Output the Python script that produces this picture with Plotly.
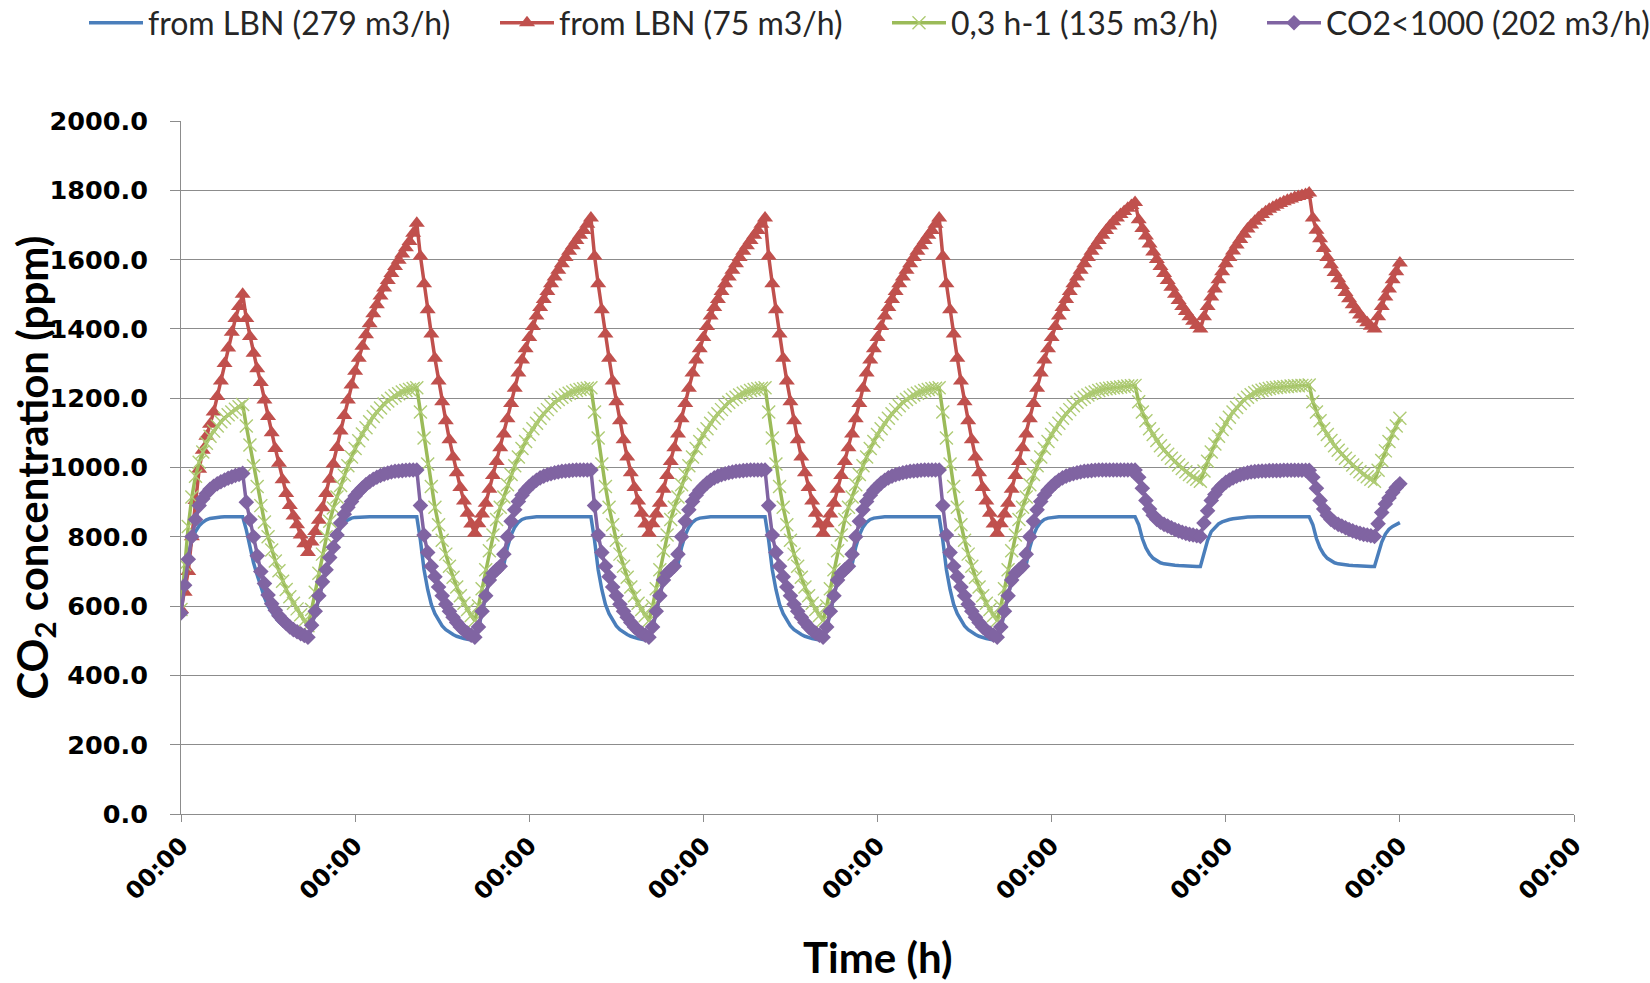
import plotly.graph_objects as go

# ---- data: CO2 concentration (ppm), sampled every 30 min over 7 days ----
series_names = ["from LBN (279 m3/h)", "from LBN (75 m3/h)", "0,3 h-1 (135 m3/h)", "CO2<1000 (202 m3/h)"]

blue_ppm = [
    590, 680, 745, 790, 815, 832, 842, 849, 853, 855, 856, 857, 858, 858, 858, 858, 858, 858, 820, 770, 725, 690, 655, 625, 600, 582, 567, 555, 545, 537, 530, 524, 519, 514, 510, 506, 540, 580, 620, 670, 705, 735, 768, 800, 828, 843, 850, 854,
    856, 857, 858, 858, 858, 858, 858, 858, 858, 858, 858, 858, 858, 858, 858, 858, 858, 858, 790, 705, 648, 605, 578, 558, 543, 532, 524, 518, 513, 509, 506, 504, 502, 500, 535, 580, 630, 676, 690, 697, 703, 720, 770, 805, 828, 842, 850, 854,
    856, 857, 858, 858, 858, 858, 858, 858, 858, 858, 858, 858, 858, 858, 858, 858, 858, 858, 790, 705, 648, 605, 578, 558, 543, 532, 524, 518, 513, 509, 506, 504, 502, 500, 535, 580, 630, 676, 690, 697, 703, 720, 770, 805, 828, 842, 850, 854,
    856, 857, 858, 858, 858, 858, 858, 858, 858, 858, 858, 858, 858, 858, 858, 858, 858, 858, 790, 705, 648, 605, 578, 558, 543, 532, 524, 518, 513, 509, 506, 504, 502, 500, 535, 580, 630, 676, 690, 697, 703, 720, 770, 805, 828, 842, 850, 854,
    856, 857, 858, 858, 858, 858, 858, 858, 858, 858, 858, 858, 858, 858, 858, 858, 858, 858, 790, 705, 648, 605, 578, 558, 543, 532, 524, 518, 513, 509, 506, 504, 502, 500, 535, 580, 630, 676, 690, 697, 703, 720, 770, 805, 828, 842, 850, 854,
    856, 857, 858, 858, 858, 858, 858, 858, 858, 858, 858, 858, 858, 858, 858, 858, 858, 858, 858, 858, 858, 858, 858, 858, 835, 795, 768, 750, 738, 730, 725, 722, 720, 719, 718, 717, 716, 716, 715, 715, 714, 714, 750, 790, 815, 828, 837, 843,
    847, 850, 852, 854, 855, 856, 857, 858, 858, 858, 858, 858, 858, 858, 858, 858, 858, 858, 858, 858, 858, 858, 858, 858, 835, 795, 768, 750, 738, 730, 725, 722, 720, 719, 718, 717, 716, 716, 715, 715, 714, 714, 748, 785, 808, 822, 830, 836,
    841,
]

red_ppm = [
    590, 640, 700, 800, 905, 995, 1050, 1090, 1125, 1160, 1205, 1250, 1300, 1345, 1390, 1430, 1465, 1500, 1430, 1378, 1330, 1285, 1245, 1195, 1147, 1100, 1055, 1012, 965, 925, 890, 860, 835, 805, 780, 755, 785, 815, 848, 884, 925, 966, 1010, 1058, 1105, 1150, 1195, 1238,
    1278, 1315, 1350, 1383, 1415, 1444, 1470, 1495, 1518, 1540, 1560, 1580, 1598, 1616, 1634, 1652, 1676, 1705, 1610, 1530, 1455, 1385, 1315, 1250, 1190, 1135, 1080, 1030, 985, 942, 903, 868, 837, 810, 838, 866, 897, 937, 977, 1017, 1057, 1097, 1141, 1185, 1229, 1273, 1310, 1343,
    1375, 1407, 1437, 1462, 1485, 1508, 1530, 1550, 1569, 1588, 1606, 1624, 1640, 1655, 1670, 1684, 1702, 1720, 1610, 1530, 1455, 1385, 1315, 1250, 1190, 1135, 1080, 1030, 985, 942, 903, 868, 837, 810, 838, 866, 897, 937, 977, 1017, 1057, 1097, 1141, 1185, 1229, 1273, 1310, 1343,
    1375, 1407, 1437, 1462, 1485, 1508, 1530, 1550, 1569, 1588, 1606, 1624, 1640, 1655, 1670, 1684, 1702, 1720, 1610, 1530, 1455, 1385, 1315, 1250, 1190, 1135, 1080, 1030, 985, 942, 903, 868, 837, 810, 838, 866, 897, 937, 977, 1017, 1057, 1097, 1141, 1185, 1229, 1273, 1310, 1343,
    1375, 1407, 1437, 1462, 1485, 1508, 1530, 1550, 1569, 1588, 1606, 1624, 1640, 1655, 1670, 1684, 1702, 1720, 1610, 1530, 1455, 1385, 1315, 1250, 1190, 1135, 1080, 1030, 985, 942, 903, 868, 837, 810, 838, 866, 897, 937, 977, 1017, 1057, 1097, 1141, 1185, 1229, 1273, 1310, 1343,
    1375, 1407, 1437, 1462, 1485, 1508, 1530, 1550, 1569, 1588, 1606, 1624, 1640, 1655, 1670, 1684, 1697, 1709, 1720, 1730, 1739, 1748, 1756, 1765, 1715, 1690, 1668, 1645, 1622, 1600, 1580, 1560, 1540, 1520, 1500, 1482, 1465, 1450, 1435, 1422, 1410, 1400, 1435, 1465, 1492, 1515, 1542, 1565,
    1588, 1606, 1625, 1642, 1658, 1673, 1688, 1700, 1711, 1721, 1730, 1738, 1745, 1751, 1757, 1762, 1767, 1771, 1775, 1779, 1782, 1785, 1788, 1792, 1720, 1685, 1660, 1632, 1606, 1585, 1563, 1545, 1525, 1505, 1487, 1470, 1455, 1440, 1428, 1418, 1408, 1400, 1435, 1465, 1492, 1515, 1542, 1565,
    1590,
]

green_ppm = [
    590, 720, 830, 915, 975, 1015, 1045, 1070, 1090, 1105, 1120, 1132, 1143, 1152, 1160, 1168, 1175, 1182, 1120, 1065, 1005, 945, 890, 843, 800, 762, 730, 702, 672, 648, 627, 608, 592, 575, 558, 543, 590, 640, 695, 750, 800, 845, 883, 915, 948, 978, 1005, 1030,
    1055, 1077, 1097, 1115, 1132, 1147, 1160, 1172, 1183, 1192, 1200, 1207, 1213, 1218, 1222, 1225, 1228, 1230, 1160, 1085, 1010, 945, 885, 835, 790, 750, 715, 683, 655, 630, 608, 590, 573, 558, 600, 650, 705, 760, 805, 850, 885, 915, 950, 980, 1005, 1030, 1055, 1075,
    1095, 1112, 1128, 1142, 1155, 1167, 1178, 1188, 1196, 1203, 1209, 1214, 1218, 1222, 1225, 1227, 1229, 1230, 1160, 1085, 1010, 945, 885, 835, 790, 750, 715, 683, 655, 630, 608, 590, 573, 558, 600, 650, 705, 760, 805, 850, 885, 915, 950, 980, 1005, 1030, 1055, 1075,
    1095, 1112, 1128, 1142, 1155, 1167, 1178, 1188, 1196, 1203, 1209, 1214, 1218, 1222, 1225, 1227, 1229, 1230, 1160, 1085, 1010, 945, 885, 835, 790, 750, 715, 683, 655, 630, 608, 590, 573, 558, 600, 650, 705, 760, 805, 850, 885, 915, 950, 980, 1005, 1030, 1055, 1075,
    1095, 1112, 1128, 1142, 1155, 1167, 1178, 1188, 1196, 1203, 1209, 1214, 1218, 1222, 1225, 1227, 1229, 1230, 1160, 1085, 1010, 945, 885, 835, 790, 750, 715, 683, 655, 630, 608, 590, 573, 558, 600, 650, 705, 760, 805, 850, 885, 915, 950, 980, 1005, 1030, 1055, 1075,
    1095, 1112, 1128, 1142, 1155, 1167, 1178, 1188, 1196, 1203, 1209, 1214, 1218, 1222, 1225, 1227, 1229, 1230, 1231, 1232, 1234, 1235, 1236, 1237, 1190, 1160, 1135, 1112, 1095, 1078, 1063, 1050, 1038, 1027, 1017, 1007, 997, 988, 980, 973, 966, 960, 990, 1018, 1045, 1068, 1090, 1110,
    1128, 1145, 1160, 1173, 1185, 1195, 1203, 1210, 1216, 1220, 1223, 1226, 1228, 1230, 1231, 1232, 1233, 1234, 1235, 1236, 1236, 1237, 1237, 1238, 1190, 1160, 1135, 1112, 1095, 1078, 1063, 1050, 1038, 1027, 1017, 1007, 997, 988, 980, 973, 966, 960, 992, 1020, 1048, 1075, 1098, 1120,
    1142,
]

purple_ppm = [
    580, 660, 735, 800, 850, 890, 910, 925, 937, 946, 953, 959, 964, 969, 973, 977, 980, 983, 900, 850, 800, 745, 700, 665, 632, 607, 588, 572, 560, 550, 540, 532, 526, 520, 515, 510, 545, 585, 630, 670, 705, 740, 770, 805, 840, 865, 885, 902,
    918, 930, 941, 951, 959, 966, 972, 977, 981, 984, 987, 989, 990, 991, 992, 993, 993, 993, 890, 805, 755, 715, 685, 655, 630, 605, 585, 568, 553, 540, 530, 522, 516, 510, 540, 585, 630, 675, 695, 705, 715, 750, 800, 845, 878, 902, 920, 934,
    945, 955, 963, 970, 975, 979, 982, 985, 987, 989, 990, 991, 992, 993, 993, 993, 993, 993, 890, 805, 755, 715, 685, 655, 630, 605, 585, 568, 553, 540, 530, 522, 516, 510, 540, 585, 630, 675, 695, 705, 715, 750, 800, 845, 878, 902, 920, 934,
    945, 955, 963, 970, 975, 979, 982, 985, 987, 989, 990, 991, 992, 993, 993, 993, 993, 993, 890, 805, 755, 715, 685, 655, 630, 605, 585, 568, 553, 540, 530, 522, 516, 510, 540, 585, 630, 675, 695, 705, 715, 750, 800, 845, 878, 902, 920, 934,
    945, 955, 963, 970, 975, 979, 982, 985, 987, 989, 990, 991, 992, 993, 993, 993, 993, 993, 890, 805, 755, 715, 685, 655, 630, 605, 585, 568, 553, 540, 530, 522, 516, 510, 540, 585, 630, 675, 695, 705, 715, 750, 800, 845, 878, 902, 920, 934,
    945, 955, 963, 970, 975, 979, 982, 985, 987, 989, 990, 991, 992, 993, 993, 993, 993, 993, 993, 993, 993, 993, 993, 993, 972, 940, 905, 880, 862, 850, 842, 836, 831, 826, 821, 817, 813, 810, 807, 805, 803, 801, 840, 875, 905, 922, 937, 948,
    957, 964, 970, 975, 979, 982, 985, 987, 988, 989, 990, 990, 991, 991, 991, 991, 992, 992, 992, 992, 992, 992, 992, 992, 972, 940, 905, 880, 862, 850, 842, 836, 831, 826, 821, 817, 813, 810, 807, 805, 803, 801, 838, 870, 895, 912, 928, 942,
    953,
]

x_tick_values = [0, 1, 2, 3, 4, 5, 6, 7, 8]          # days
x_tick_labels = ["00:00"] * 9
y_tick_values = [0, 200, 400, 600, 800, 1000, 1200, 1400, 1600, 1800, 2000]
y_tick_labels = ["0.0", "200.0", "400.0", "600.0", "800.0", "1000.0", "1200.0",
                 "1400.0", "1600.0", "1800.0", "2000.0"]

SAMPLES_PER_DAY = 48  # 30-minute time step


def days_axis(values):
    return [i / SAMPLES_PER_DAY for i in range(len(values))]


fig = go.Figure()

fig.add_trace(go.Scatter(
    x=days_axis(blue_ppm), y=blue_ppm, name=series_names[0], mode="lines",
    legend="legend",
    line=dict(color="#4A7EBB", width=3.5),
))
fig.add_trace(go.Scatter(
    x=days_axis(red_ppm), y=red_ppm, name=series_names[1], mode="lines+markers",
    legend="legend2",
    line=dict(color="#C0504D", width=3.5),
    marker=dict(symbol="triangle-up", size=14, color="#C0504D", line=dict(width=0)),
))
fig.add_trace(go.Scatter(
    x=days_axis(green_ppm), y=green_ppm, name=series_names[2], mode="lines+markers",
    legend="legend3",
    line=dict(color="#9BBB59", width=3.5),
    marker=dict(symbol="x-thin", size=13, color="#AECB74",
                line=dict(width=1.4, color="#AECB74")),
))
fig.add_trace(go.Scatter(
    x=days_axis(purple_ppm), y=purple_ppm, name=series_names[3], mode="lines+markers",
    legend="legend4",
    line=dict(color="#8064A2", width=3.5),
    marker=dict(symbol="diamond", size=12, color="#8064A2", line=dict(width=0)),
))

FIG_W, FIG_H = 1650, 983
legend_left_px = [84, 495, 887, 1262]


def legend_style(px):
    return dict(orientation="h", xref="container", yref="container",
                x=px / FIG_W, xanchor="left", y=1 - 23 / FIG_H, yanchor="middle",
                font=dict(family="Lato", size=32, color="#262626"),
                itemwidth=54, bgcolor="rgba(0,0,0,0)", borderwidth=0)


grey = "#8C8C8C"
fig.update_layout(
    width=FIG_W, height=FIG_H, autosize=False,
    margin=dict(l=181, r=76, t=121, b=168.5),
    paper_bgcolor="white", plot_bgcolor="white",
    showlegend=True,
    legend=legend_style(legend_left_px[0]),
    legend2=legend_style(legend_left_px[1]),
    legend3=legend_style(legend_left_px[2]),
    legend4=legend_style(legend_left_px[3]),
    xaxis=dict(range=[0, 8], tickmode="array", tickvals=x_tick_values, ticktext=x_tick_labels,
               tickangle=-45, ticks="outside", ticklen=7, tickcolor=grey, tickwidth=1,
               showgrid=False, showline=True, linecolor=grey, linewidth=1, zeroline=False,
               automargin=False,
               tickfont=dict(family="DejaVu Sans", size=24, color="black", weight="bold")),
    yaxis=dict(range=[0, 2000], tickmode="array", tickvals=y_tick_values, ticktext=y_tick_labels,
               ticks="outside", ticklen=10, tickcolor=grey, tickwidth=1,
               showgrid=True, gridcolor=grey, gridwidth=1,
               showline=True, linecolor=grey, linewidth=1, zeroline=False,
               automargin=False, ticklabelstandoff=17,
               tickfont=dict(family="DejaVu Sans", size=25.5, color="black", weight="bold")),
    annotations=[
        dict(text="CO<sub>2</sub> concentration (ppm)", textangle=-90, xref="paper", yref="paper",
             x=-0.1055, y=0.5, xanchor="center", yanchor="middle", showarrow=False,
             font=dict(family="Lato", size=42, color="black", weight="bold")),
        dict(text="Time (h)", xref="paper", yref="paper", x=0.5, y=(814.5 - 958) / 693.5,
             xanchor="center", yanchor="middle", showarrow=False,
             font=dict(family="Lato", size=42, color="black", weight="bold")),
    ],
)

# the figure fills the whole 1650x983 page: drop the browser's default body margin
fig.write_html("out.html",
               config={"displayModeBar": False},
               post_script="document.body.style.margin='0';document.body.style.overflow='hidden';")
